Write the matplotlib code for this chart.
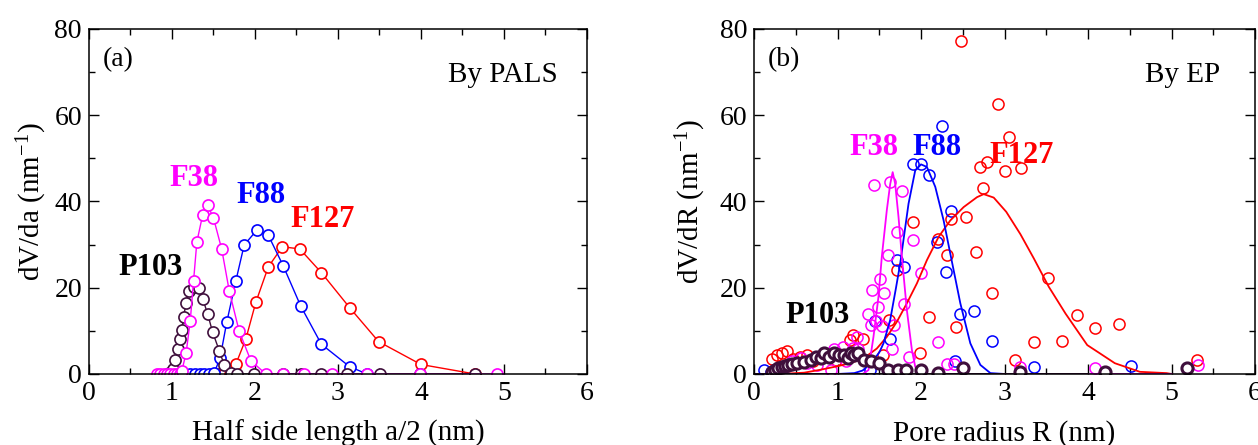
import numpy as np
import matplotlib
matplotlib.use("Agg")
import matplotlib.pyplot as plt
from matplotlib.ticker import MultipleLocator

plt.rcParams['font.family'] = ['Liberation Serif', 'DejaVu Serif']
plt.rcParams['mathtext.fontset'] = 'custom'
plt.rcParams['mathtext.rm'] = 'Liberation Serif'
plt.rcParams['mathtext.it'] = 'Liberation Serif:italic'

C_F38 = '#ff00ff'
C_F88 = '#0000ff'
C_F127 = '#ff0000'
C_P103 = '#3f0f3c'

# ---- (a) PALS: half side length a/2 (nm) vs dV/da ----
f38_a_x = [0.82, 0.86, 0.90, 0.94, 0.98, 1.02, 1.06, 1.10, 1.12, 1.17, 1.22, 1.26, 1.30,
           1.37, 1.43, 1.50, 1.60, 1.69, 1.81, 1.95, 2.13, 2.34, 2.59, 2.93, 3.35, 3.99, 4.92]
f38_a_y = [0, 0, 0, 0, 0, 0, 0, 0, 0.8, 4.8, 12.2, 21.5, 30.6,
           36.9, 39.1, 36.2, 28.9, 19.3, 9.9, 3.1, 0, 0, 0, 0, 0, 0, 0]

f88_a_x = [1.22, 1.28, 1.34, 1.39, 1.45, 1.51, 1.58, 1.66, 1.77, 1.87, 2.02, 2.16, 2.34,
           2.55, 2.80, 3.14, 3.35]
f88_a_y = [0, 0, 0, 0, 0, 0.3, 3.7, 12.0, 21.6, 29.9, 33.3, 32.2, 25.1,
           15.8, 6.9, 1.7, 0]

f127_a_x = [1.55, 1.63, 1.70, 1.77, 1.89, 2.01, 2.16, 2.33, 2.54, 2.80, 3.14, 3.49, 4.00, 4.65]
f127_a_y = [0, 0, 0, 2.3, 8.1, 16.6, 24.8, 29.5, 29.0, 23.5, 15.4, 7.5, 2.2, 0]

p103_a_x = [0.97, 1.01, 1.04, 1.07, 1.10, 1.12, 1.14, 1.17, 1.20, 1.26, 1.33, 1.37, 1.43,
            1.49, 1.57, 1.63, 1.71, 1.78, 1.99, 2.34, 2.55, 2.79, 3.11, 3.51, 3.99, 4.65]
p103_a_y = [0.3, 1.2, 3.2, 5.8, 8.2, 10.2, 13.3, 16.4, 19.3, 20.2, 20.0, 17.5, 13.9,
            9.7, 5.4, 2.1, 0.3, 0, 0, 0, 0, 0, 0, 0, 0, 0]

# ---- (b) EP: pore radius R (nm) vs dV/dR, scattered data ----
f38_b_x = [0.45, 0.56, 0.64, 0.75, 0.92, 0.96, 1.06, 1.10, 1.18, 1.23, 1.24, 1.37, 1.40,
           1.41, 1.44, 1.46, 1.49, 1.51, 1.53, 1.56, 1.60, 1.63, 1.65, 1.68, 1.71, 1.77,
           1.80, 1.85, 1.90, 2.00, 2.20, 2.31, 2.40, 3.19, 4.08, 5.32]
f38_b_y = [3.0, 3.6, 2.5, 2.0, 0.9, 5.9, 6.3, 3.0, 6.0, 8.6, 5.9, 14.0, 11.3,
           19.4, 43.9, 12.3, 15.5, 22.1, 11.1, 18.8, 27.6, 44.6, 5.9, 11.4, 33.0, 42.5,
           16.2, 3.9, 31.0, 23.3, 7.5, 2.3, 2.3, 1.6, 1.5, 2.1]

f88_b_x = [0.12, 0.20, 1.39, 1.45, 1.63, 1.71, 1.80, 1.90, 2.00, 2.09, 2.19, 2.25, 2.30,
           2.36, 2.41, 2.47, 2.63, 2.85, 3.35, 4.51]
f88_b_y = [0.9, 0.4, 0.9, 12.3, 8.1, 26.4, 24.9, 48.8, 48.8, 46.2, 30.5, 57.4, 23.6,
           37.7, 2.9, 14.0, 14.5, 7.7, 1.7, 1.85]

f127_b_x = [0.22, 0.28, 0.34, 0.40, 0.47, 0.55, 0.63, 0.70, 0.98, 1.15, 1.19, 1.30, 1.55,
            1.62, 1.71, 1.90, 1.99, 2.09, 2.20, 2.31, 2.36, 2.42, 2.475, 2.54, 2.66, 2.70,
            2.74, 2.79, 2.85, 2.92, 3.00, 3.05, 3.13, 3.20, 3.35, 3.52, 3.69, 3.87, 4.08,
            4.37, 5.31]
f127_b_y = [3.4, 4.4, 4.8, 5.3, 3.5, 4.0, 4.4, 3.0, 3.2, 7.9, 9.0, 8.0, 4.4,
            12.5, 24.1, 35.3, 4.8, 13.3, 31.4, 27.7, 36.0, 11.0, 77.2, 36.4, 28.2, 48.0,
            43.2, 49.2, 18.7, 62.6, 47.0, 54.9, 3.2, 47.8, 7.3, 22.3, 7.7, 13.7, 10.6,
            11.5, 3.2]

p103_b_x = [0.21, 0.25, 0.29, 0.33, 0.37, 0.41, 0.46, 0.52, 0.60, 0.68, 0.74, 0.80, 0.84,
            0.90, 0.96, 1.02, 1.08, 1.12, 1.16, 1.20, 1.24, 1.32, 1.40, 1.50, 1.60, 1.72,
            1.82, 2.00, 2.20, 2.50, 3.19, 4.20, 5.19]
p103_b_y = [0.5, 0.9, 1.3, 1.6, 1.9, 2.0, 2.3, 2.5, 2.8, 3.2, 4.0, 3.8, 4.8,
            4.0, 4.8, 4.4, 4.4, 3.6, 4.8, 4.4, 4.8, 3.2, 2.9, 2.5, 0.9, 0.9,
            0.9, 0.9, 0.3, 1.3, 0.5, 0.5, 1.3]

# ---- (b) fitted distributions ----
f38_fit_x = [0.0, 1.30, 1.37, 1.43, 1.49, 1.53, 1.59, 1.63, 1.66, 1.69, 1.73, 1.77, 1.83,
             1.89, 1.93, 1.97, 5.0]
f38_fit_y = [0, 0, 0.9, 8.6, 17.9, 27.2, 38.0, 44.0, 46.8, 44.1, 36.4, 27.2, 14.8,
             5.6, 1.7, 0, 0]

f88_fit_x = [0.0, 1.0, 1.2, 1.3, 1.4, 1.5, 1.55, 1.63, 1.70, 1.75, 1.85, 1.93, 2.00, 2.07,
             2.17, 2.27, 2.35, 2.47, 2.59, 2.71, 2.83, 3.0]
f88_fit_y = [0, 0, 0.2, 0.8, 2.5, 5.0, 7.1, 12.5, 20.0, 25.6, 39.5, 47.2, 48.6, 48.0,
             43.4, 35.6, 27.9, 16.4, 7.1, 2.1, 0.2, 0]

f127_fit_x = [0.3, 0.6, 0.8, 1.0, 1.15, 1.31, 1.47, 1.59, 1.71, 1.83, 1.95, 2.07, 2.21,
              2.35, 2.51, 2.67, 2.75, 2.87, 3.02, 3.19, 3.35, 3.53, 3.73, 3.99, 4.14,
              4.32, 4.62, 4.94, 5.0]
f127_fit_y = [0, 0.3, 1.0, 1.8, 2.5, 3.6, 5.9, 8.6, 12.1, 16.4, 21.0, 26.4, 31.8,
              35.6, 38.7, 41.0, 41.7, 40.9, 37.6, 32.4, 26.8, 20.2, 14.0, 6.7, 4.8,
              2.5, 0.5, 0.2, 0]

p103_fit_x = [0.0, 4.0]
p103_fit_y = [0, 0]


def style_axes(ax):
    ax.set_xlim(0, 6)
    ax.set_ylim(0, 80)
    ax.xaxis.set_major_locator(MultipleLocator(1))
    ax.xaxis.set_minor_locator(MultipleLocator(0.5))
    ax.yaxis.set_major_locator(MultipleLocator(20))
    ax.yaxis.set_minor_locator(MultipleLocator(10))
    ax.tick_params(which='both', direction='in', top=True, right=True,
                   labelsize=20, width=1.0, pad=5)
    ax.tick_params(which='major', length=7)
    ax.tick_params(which='minor', length=4)
    for s in ax.spines.values():
        s.set_linewidth(1.1)


fig = plt.figure(figsize=(12.58, 4.45), dpi=100)
ax_a = fig.add_axes([0.0707, 0.1596, 0.3959, 0.7753])
ax_b = fig.add_axes([0.5994, 0.1596, 0.3983, 0.7753])

mk = dict(marker='o', markersize=8, markerfacecolor='white', markeredgewidth=1.2,
          linewidth=1.0)

# panel (a): connected open circles
ax_a.plot(f127_a_x, f127_a_y, color=C_F127, markeredgecolor=C_F127, **mk)
ax_a.plot(f88_a_x, f88_a_y, color=C_F88, markeredgecolor=C_F88, **mk)
ax_a.plot(p103_a_x, p103_a_y, color=C_P103, markeredgecolor=C_P103, **mk)
ax_a.plot(f38_a_x, f38_a_y, color=C_F38, markeredgecolor=C_F38, **mk)

style_axes(ax_a)
ax_a.set_xlabel('Half side length a/2 (nm)', fontsize=21, labelpad=10)
ax_a.set_ylabel('dV/da (nm$^{-1}$)', fontsize=21, labelpad=4)
ax_a.text(0.028, 0.91, '(a)', transform=ax_a.transAxes, fontsize=20, va='center', ha='left')
ax_a.text(0.942, 0.867, 'By PALS', transform=ax_a.transAxes, fontsize=21, va='center', ha='right')
lab = dict(fontsize=22, fontweight='bold', ha='center', va='center')
ax_a.text(1.27, 45.4, 'F38', color=C_F38, **lab)
ax_a.text(2.07, 41.4, 'F88', color=C_F88, **lab)
ax_a.text(2.81, 35.8, 'F127', color=C_F127, **lab)
ax_a.text(0.74, 24.8, 'P103', color='black', **lab)

# panel (b): scattered open circles with fitted curves
sc = dict(marker='o', markersize=8, markerfacecolor='none', markeredgewidth=1.1,
          linestyle='none')
ax_b.plot(f127_b_x, f127_b_y, markeredgecolor=C_F127, **sc)
ax_b.plot(f88_b_x, f88_b_y, markeredgecolor=C_F88, **sc)
ax_b.plot(f38_b_x, f38_b_y, markeredgecolor=C_F38, **sc)
ax_b.plot(f127_fit_x, f127_fit_y, color=C_F127, linewidth=1.3)
ax_b.plot(f88_fit_x, f88_fit_y, color=C_F88, linewidth=1.3)
ax_b.plot(f38_fit_x, f38_fit_y, color=C_F38, linewidth=1.3)
ax_b.plot(p103_fit_x, p103_fit_y, color=C_P103, linewidth=1.3)
ax_b.plot(p103_b_x, p103_b_y, marker='o', markersize=8, markerfacecolor='white',
          markeredgecolor=C_P103, markeredgewidth=2.2, linestyle='none')

style_axes(ax_b)
ax_b.set_xlabel('Pore radius R (nm)', fontsize=21, labelpad=10)
ax_b.set_ylabel('dV/dR (nm$^{-1}$)', fontsize=21, labelpad=8)
ax_b.text(0.028, 0.91, '(b)', transform=ax_b.transAxes, fontsize=20, va='center', ha='left')
ax_b.text(0.93, 0.867, 'By EP', transform=ax_b.transAxes, fontsize=21, va='center', ha='right')
ax_b.text(1.44, 52.6, 'F38', color=C_F38, **lab)
ax_b.text(2.19, 52.6, 'F88', color=C_F88, **lab)
ax_b.text(3.21, 50.7, 'F127', color=C_F127, **lab)
ax_b.text(0.76, 13.5, 'P103', color='black', **lab)

fig.savefig('out.png', dpi=100)
